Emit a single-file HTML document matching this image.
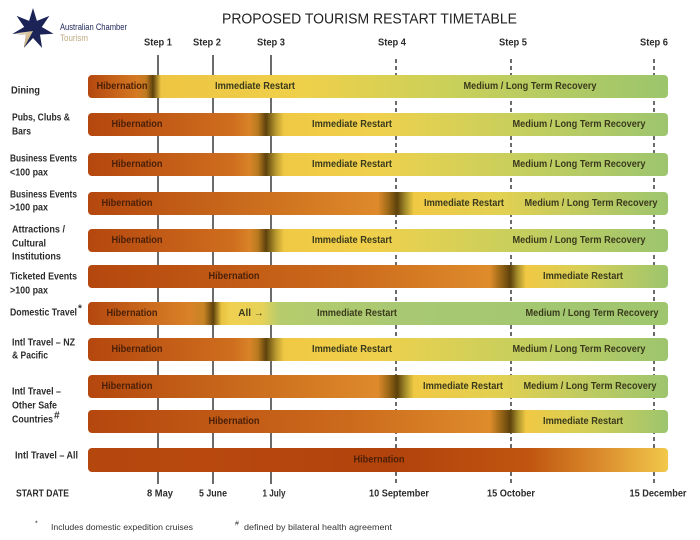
<!DOCTYPE html>
<html>
<head>
<meta charset="utf-8">
<style>
  html,body{margin:0;padding:0;background:#fff;}
  svg{display:block;}
  text{font-family:"Liberation Sans", sans-serif;}
  .lbl{font-size:10px;font-weight:bold;fill:#2b2b2b;}
  .bt{font-size:10px;font-weight:bold;}
  .hib{fill:#4a1f08;}
  .oth{fill:#3a3a1c;}
  .step{font-size:10px;font-weight:bold;fill:#2b2b2b;}
</style>
</head>
<body>
<svg width="700" height="540" viewBox="0 0 700 540" xmlns="http://www.w3.org/2000/svg">
  <defs>
    <linearGradient id="gDining" gradientUnits="userSpaceOnUse" x1="88" y1="0" x2="668" y2="0">
      <stop offset="0" stop-color="#b4470e"/>
      <stop offset="0.085" stop-color="#d57a24"/>
      <stop offset="0.10" stop-color="#c07a20"/>
      <stop offset="0.112" stop-color="#5e420c"/>
      <stop offset="0.126" stop-color="#eec542"/>
      <stop offset="0.37" stop-color="#efd04a"/>
      <stop offset="0.62" stop-color="#cad05a"/>
      <stop offset="1" stop-color="#9cc56c"/>
    </linearGradient>
    <linearGradient id="gS3" gradientUnits="userSpaceOnUse" x1="88" y1="0" x2="668" y2="0">
      <stop offset="0" stop-color="#b4470e"/>
      <stop offset="0.25" stop-color="#cf6e1e"/>
      <stop offset="0.279" stop-color="#d98328"/>
      <stop offset="0.293" stop-color="#b87a20"/>
      <stop offset="0.307" stop-color="#5e420c"/>
      <stop offset="0.324" stop-color="#b89a30"/>
      <stop offset="0.338" stop-color="#f0c944"/>
      <stop offset="0.50" stop-color="#efd04c"/>
      <stop offset="0.745" stop-color="#c6cf5e"/>
      <stop offset="1" stop-color="#9dc56e"/>
    </linearGradient>
    <linearGradient id="gS4" gradientUnits="userSpaceOnUse" x1="88" y1="0" x2="668" y2="0">
      <stop offset="0" stop-color="#b4470e"/>
      <stop offset="0.366" stop-color="#d27822"/>
      <stop offset="0.50" stop-color="#de8a2c"/>
      <stop offset="0.517" stop-color="#a06a18"/>
      <stop offset="0.533" stop-color="#5e420c"/>
      <stop offset="0.548" stop-color="#a8902c"/>
      <stop offset="0.562" stop-color="#f0c944"/>
      <stop offset="0.71" stop-color="#e2d052"/>
      <stop offset="1" stop-color="#9dc56e"/>
    </linearGradient>
    <linearGradient id="gS5" gradientUnits="userSpaceOnUse" x1="88" y1="0" x2="668" y2="0">
      <stop offset="0" stop-color="#b4470e"/>
      <stop offset="0.45" stop-color="#cc6a1c"/>
      <stop offset="0.693" stop-color="#de8c2c"/>
      <stop offset="0.71" stop-color="#a06a18"/>
      <stop offset="0.728" stop-color="#5e420c"/>
      <stop offset="0.741" stop-color="#a8902c"/>
      <stop offset="0.755" stop-color="#f0c944"/>
      <stop offset="0.848" stop-color="#d8cf55"/>
      <stop offset="1" stop-color="#9dc56e"/>
    </linearGradient>
    <linearGradient id="gDom" gradientUnits="userSpaceOnUse" x1="88" y1="0" x2="668" y2="0">
      <stop offset="0" stop-color="#b4470e"/>
      <stop offset="0.176" stop-color="#d98228"/>
      <stop offset="0.200" stop-color="#c68424"/>
      <stop offset="0.216" stop-color="#5e420c"/>
      <stop offset="0.230" stop-color="#e8c240"/>
      <stop offset="0.245" stop-color="#f0d050"/>
      <stop offset="0.30" stop-color="#e6d258"/>
      <stop offset="0.33" stop-color="#b6cc6c"/>
      <stop offset="0.55" stop-color="#a8c874"/>
      <stop offset="1" stop-color="#9fc66e"/>
    </linearGradient>
    <linearGradient id="gAll" gradientUnits="userSpaceOnUse" x1="88" y1="0" x2="668" y2="0">
      <stop offset="0" stop-color="#b4470e"/>
      <stop offset="0.19" stop-color="#b8480e"/>
      <stop offset="0.53" stop-color="#b2430c"/>
      <stop offset="0.76" stop-color="#c05510"/>
      <stop offset="0.88" stop-color="#da8a2c"/>
      <stop offset="1" stop-color="#f2c84a"/>
    </linearGradient>
    <linearGradient id="gGold" x1="0" y1="0" x2="1" y2="1">
      <stop offset="0" stop-color="#f3ecd6"/>
      <stop offset="1" stop-color="#b89a5a"/>
    </linearGradient>
  </defs>

  <!-- Logo -->
  <polygon points="33,8 36.9,20.9 49.4,15.9 41.8,27 53.5,33.7 40,34.6 42.1,47.9 33,38 23.9,47.9 26,34.6 12.5,33.7 24.2,27 16.6,15.9 29.1,20.9" fill="#1c2457"/>
  <polygon points="33,31 23.9,47.9 26,34.6 14,33.5" fill="url(#gGold)"/>
  <text x="60" y="27" font-size="9" fill="#1c2457" dominant-baseline="central" textLength="67" lengthAdjust="spacingAndGlyphs">Australian Chamber</text>
  <text x="60" y="38" font-size="9" fill="#c0aa80" dominant-baseline="central" textLength="28" lengthAdjust="spacingAndGlyphs">Tourism</text>

  <!-- Title -->
  <text x="222" y="19" font-size="15" fill="#222" dominant-baseline="central" textLength="295" lengthAdjust="spacingAndGlyphs">PROPOSED TOURISM RESTART TIMETABLE</text>

  <!-- Step labels -->
  <text class="step" x="158" y="43" text-anchor="middle" dominant-baseline="central" textLength="28" lengthAdjust="spacingAndGlyphs">Step 1</text>
  <text class="step" x="207" y="43" text-anchor="middle" dominant-baseline="central" textLength="28" lengthAdjust="spacingAndGlyphs">Step 2</text>
  <text class="step" x="271" y="43" text-anchor="middle" dominant-baseline="central" textLength="28" lengthAdjust="spacingAndGlyphs">Step 3</text>
  <text class="step" x="392" y="43" text-anchor="middle" dominant-baseline="central" textLength="28" lengthAdjust="spacingAndGlyphs">Step 4</text>
  <text class="step" x="513" y="43" text-anchor="middle" dominant-baseline="central" textLength="28" lengthAdjust="spacingAndGlyphs">Step 5</text>
  <text class="step" x="654" y="43" text-anchor="middle" dominant-baseline="central" textLength="28" lengthAdjust="spacingAndGlyphs">Step 6</text>

  <!-- Vertical step lines -->
  <g stroke="#3a3a3a" stroke-width="1.5">
    <line x1="158" y1="55" x2="158" y2="484"/>
    <line x1="213" y1="55" x2="213" y2="484"/>
    <line x1="271" y1="55" x2="271" y2="484"/>
  </g>
  <g stroke="#3a3a3a" stroke-width="1.5" stroke-dasharray="4 3">
    <line x1="396" y1="59" x2="396" y2="486"/>
    <line x1="511" y1="59" x2="511" y2="486"/>
    <line x1="654" y1="59" x2="654" y2="486"/>
  </g>

  <!-- Bars -->
  <rect x="88" y="75" width="580" height="23" rx="4" fill="url(#gDining)"/>
  <rect x="88" y="113" width="580" height="23" rx="4" fill="url(#gS3)"/>
  <rect x="88" y="153" width="580" height="23" rx="4" fill="url(#gS3)"/>
  <rect x="88" y="192" width="580" height="23" rx="4" fill="url(#gS4)"/>
  <rect x="88" y="229" width="580" height="23" rx="4" fill="url(#gS3)"/>
  <rect x="88" y="265" width="580" height="23" rx="4" fill="url(#gS5)"/>
  <rect x="88" y="302" width="580" height="23" rx="4" fill="url(#gDom)"/>
  <rect x="88" y="338" width="580" height="23" rx="4" fill="url(#gS3)"/>
  <rect x="88" y="375" width="580" height="23" rx="4" fill="url(#gS4)"/>
  <rect x="88" y="410" width="580" height="23" rx="4" fill="url(#gS5)"/>
  <rect x="88" y="448" width="580" height="24" rx="4" fill="url(#gAll)"/>

  <!-- Bar texts -->
  <g dominant-baseline="central" text-anchor="middle">
    <!-- Dining -->
    <text class="bt hib" x="122" y="86.5" textLength="51" lengthAdjust="spacingAndGlyphs">Hibernation</text>
    <text class="bt oth" x="255" y="86.5" textLength="80" lengthAdjust="spacingAndGlyphs">Immediate Restart</text>
    <text class="bt oth" x="530" y="86.5" textLength="133" lengthAdjust="spacingAndGlyphs">Medium / Long Term Recovery</text>
    <!-- Pubs -->
    <text class="bt hib" x="137" y="124.5" textLength="51" lengthAdjust="spacingAndGlyphs">Hibernation</text>
    <text class="bt oth" x="352" y="124.5" textLength="80" lengthAdjust="spacingAndGlyphs">Immediate Restart</text>
    <text class="bt oth" x="579" y="124.5" textLength="133" lengthAdjust="spacingAndGlyphs">Medium / Long Term Recovery</text>
    <!-- BE <100 -->
    <text class="bt hib" x="137" y="164.5" textLength="51" lengthAdjust="spacingAndGlyphs">Hibernation</text>
    <text class="bt oth" x="352" y="164.5" textLength="80" lengthAdjust="spacingAndGlyphs">Immediate Restart</text>
    <text class="bt oth" x="579" y="164.5" textLength="133" lengthAdjust="spacingAndGlyphs">Medium / Long Term Recovery</text>
    <!-- BE >100 -->
    <text class="bt hib" x="127" y="203.5" textLength="51" lengthAdjust="spacingAndGlyphs">Hibernation</text>
    <text class="bt oth" x="464" y="203.5" textLength="80" lengthAdjust="spacingAndGlyphs">Immediate Restart</text>
    <text class="bt oth" x="591" y="203.5" textLength="133" lengthAdjust="spacingAndGlyphs">Medium / Long Term Recovery</text>
    <!-- Attractions -->
    <text class="bt hib" x="137" y="240.5" textLength="51" lengthAdjust="spacingAndGlyphs">Hibernation</text>
    <text class="bt oth" x="352" y="240.5" textLength="80" lengthAdjust="spacingAndGlyphs">Immediate Restart</text>
    <text class="bt oth" x="579" y="240.5" textLength="133" lengthAdjust="spacingAndGlyphs">Medium / Long Term Recovery</text>
    <!-- Ticketed -->
    <text class="bt hib" x="234" y="276.5" textLength="51" lengthAdjust="spacingAndGlyphs">Hibernation</text>
    <text class="bt oth" x="583" y="276.5" textLength="80" lengthAdjust="spacingAndGlyphs">Immediate Restart</text>
    <!-- Domestic -->
    <text class="bt hib" x="132" y="313.5" textLength="51" lengthAdjust="spacingAndGlyphs">Hibernation</text>
    <text class="bt oth" x="251" y="313.5">All →</text>
    <text class="bt oth" x="357" y="313.5" textLength="80" lengthAdjust="spacingAndGlyphs">Immediate Restart</text>
    <text class="bt oth" x="592" y="313.5" textLength="133" lengthAdjust="spacingAndGlyphs">Medium / Long Term Recovery</text>
    <!-- NZ -->
    <text class="bt hib" x="137" y="349.5" textLength="51" lengthAdjust="spacingAndGlyphs">Hibernation</text>
    <text class="bt oth" x="352" y="349.5" textLength="80" lengthAdjust="spacingAndGlyphs">Immediate Restart</text>
    <text class="bt oth" x="579" y="349.5" textLength="133" lengthAdjust="spacingAndGlyphs">Medium / Long Term Recovery</text>
    <!-- Other safe 1 -->
    <text class="bt hib" x="127" y="386.5" textLength="51" lengthAdjust="spacingAndGlyphs">Hibernation</text>
    <text class="bt oth" x="463" y="386.5" textLength="80" lengthAdjust="spacingAndGlyphs">Immediate Restart</text>
    <text class="bt oth" x="590" y="386.5" textLength="133" lengthAdjust="spacingAndGlyphs">Medium / Long Term Recovery</text>
    <!-- Other safe 2 -->
    <text class="bt hib" x="234" y="421.5" textLength="51" lengthAdjust="spacingAndGlyphs">Hibernation</text>
    <text class="bt oth" x="583" y="421.5" textLength="80" lengthAdjust="spacingAndGlyphs">Immediate Restart</text>
    <!-- All -->
    <text class="bt hib" x="379" y="460" textLength="51" lengthAdjust="spacingAndGlyphs">Hibernation</text>
  </g>

  <!-- Row labels -->
  <g dominant-baseline="central">
    <text class="lbl" x="11" y="91" textLength="29" lengthAdjust="spacingAndGlyphs">Dining</text>
    <text class="lbl" x="12" y="118" textLength="58" lengthAdjust="spacingAndGlyphs">Pubs, Clubs &amp;</text>
    <text class="lbl" x="12" y="132" textLength="19" lengthAdjust="spacingAndGlyphs">Bars</text>
    <text class="lbl" x="10" y="159" textLength="67" lengthAdjust="spacingAndGlyphs">Business Events</text>
    <text class="lbl" x="10" y="173" textLength="38" lengthAdjust="spacingAndGlyphs">&lt;100 pax</text>
    <text class="lbl" x="10" y="195" textLength="67" lengthAdjust="spacingAndGlyphs">Business Events</text>
    <text class="lbl" x="10" y="208" textLength="38" lengthAdjust="spacingAndGlyphs">&gt;100 pax</text>
    <text class="lbl" x="12" y="230" textLength="53" lengthAdjust="spacingAndGlyphs">Attractions /</text>
    <text class="lbl" x="12" y="244" textLength="34" lengthAdjust="spacingAndGlyphs">Cultural</text>
    <text class="lbl" x="12" y="257" textLength="49" lengthAdjust="spacingAndGlyphs">Institutions</text>
    <text class="lbl" x="10" y="277" textLength="67" lengthAdjust="spacingAndGlyphs">Ticketed Events</text>
    <text class="lbl" x="10" y="291" textLength="38" lengthAdjust="spacingAndGlyphs">&gt;100 pax</text>
    <text class="lbl" x="10" y="313" textLength="67" lengthAdjust="spacingAndGlyphs">Domestic Travel</text>
    <text class="lbl" x="78" y="309" font-size="6">*</text>
    <text class="lbl" x="12" y="343" textLength="63" lengthAdjust="spacingAndGlyphs">Intl Travel – NZ</text>
    <text class="lbl" x="12" y="356" textLength="36" lengthAdjust="spacingAndGlyphs">&amp; Pacific</text>
    <text class="lbl" x="12" y="392" textLength="49" lengthAdjust="spacingAndGlyphs">Intl Travel –</text>
    <text class="lbl" x="12" y="406" textLength="45" lengthAdjust="spacingAndGlyphs">Other Safe</text>
    <text class="lbl" x="12" y="420" textLength="41" lengthAdjust="spacingAndGlyphs">Countries</text>
    <text class="lbl" x="54" y="416" font-size="6">#</text>
    <text class="lbl" x="15" y="456" textLength="63" lengthAdjust="spacingAndGlyphs">Intl Travel – All</text>
    <text class="lbl" x="16" y="494" textLength="53" lengthAdjust="spacingAndGlyphs" fill="#1a1a1a">START DATE</text>
  </g>

  <!-- Date labels -->
  <g dominant-baseline="central" text-anchor="middle">
    <text class="lbl" x="160" y="494" textLength="26" lengthAdjust="spacingAndGlyphs">8 May</text>
    <text class="lbl" x="213" y="494" textLength="28" lengthAdjust="spacingAndGlyphs">5 June</text>
    <text class="lbl" x="274" y="494" textLength="23" lengthAdjust="spacingAndGlyphs">1 July</text>
    <text class="lbl" x="399" y="494" textLength="60" lengthAdjust="spacingAndGlyphs">10 September</text>
    <text class="lbl" x="511" y="494" textLength="48" lengthAdjust="spacingAndGlyphs">15 October</text>
    <text class="lbl" x="658" y="494" textLength="57" lengthAdjust="spacingAndGlyphs">15 December</text>
  </g>

  <!-- Footnotes -->
  <g dominant-baseline="central" font-size="8.5" fill="#333">
    <text x="35" y="524" font-size="7">*</text>
    <text x="51" y="527" textLength="142" lengthAdjust="spacingAndGlyphs">Includes domestic expedition cruises</text>
    <text x="235" y="524" font-size="7">#</text>
    <text x="244" y="527" textLength="148" lengthAdjust="spacingAndGlyphs">defined by bilateral health agreement</text>
  </g>
</svg>
</body>
</html>
